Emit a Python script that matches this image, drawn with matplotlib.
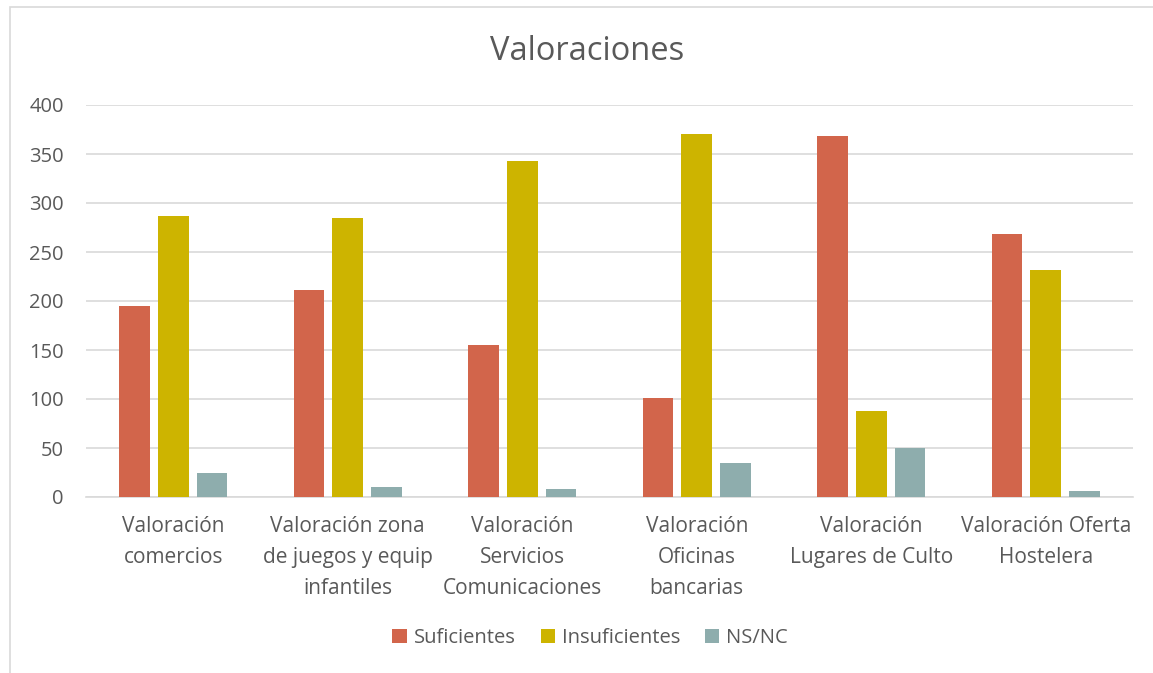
import numpy as np
import matplotlib.pyplot as plt
from matplotlib.patches import Rectangle

# Data
categorias = ['Valoración\ncomercios',
              'Valoración zona\nde juegos y equip\ninfantiles',
              'Valoración\nServicios\nComunicaciones',
              'Valoración\nOficinas\nbancarias',
              'Valoración\nLugares de Culto',
              'Valoración Oferta\nHostelera']
suficientes = [195, 211, 155, 101, 368, 268]
insuficientes = [287, 285, 343, 370, 88, 232]
ns_nc = [25, 10, 8, 35, 50, 6]

series = ['Suficientes', 'Insuficientes', 'NS/NC']
colores = ['#D2654B', '#CDB400', '#8EADAD']
texto = '#595959'

plt.rcParams['font.family'] = ['Open Sans', 'DejaVu Sans']

fig = plt.figure(figsize=(11.53, 6.73), dpi=100)
ax = fig.add_axes([86 / 1153, 1 - 497 / 673, (1133 - 86) / 1153, (497 - 105) / 673])

x = np.arange(len(categorias))
ancho = 0.175
paso = 0.222
for i, (vals, nombre, c) in enumerate(zip([suficientes, insuficientes, ns_nc], series, colores)):
    ax.bar(x + (i - 1) * paso, vals, width=ancho, color=c, label=nombre, zorder=3)

ax.set_xlim(-0.5, len(categorias) - 0.5)
ax.set_ylim(0, 400)
ax.set_yticks(range(0, 401, 50))
ax.set_xticks(x)
ax.set_xticklabels(categorias, fontsize=15, color=texto, linespacing=1.62)
ax.tick_params(axis='x', length=0, pad=14)
ax.tick_params(axis='y', length=0, pad=16, labelsize=14.5, labelcolor=texto)
ax.grid(axis='y', color='#D9D9D9', linewidth=1.2, zorder=0)
for s in ['top', 'right', 'left']:
    ax.spines[s].set_visible(False)
ax.spines['bottom'].set_color('#D9D9D9')
ax.spines['bottom'].set_linewidth(1.2)

fig.text(0.509, 1 - 51 / 673, 'Valoraciones', ha='center', va='center', fontsize=23.5, color=texto)

fig.legend(loc='center', bbox_to_anchor=(0.512, 1 - 638 / 673), ncol=3, frameon=False,
           fontsize=14.5, labelcolor=texto, handlelength=0.7, handleheight=0.7,
           handletextpad=0.35, columnspacing=1.25)

fig.patches.append(Rectangle((10 / 1153, -0.1), 1.2, 1.1 - 7 / 673, transform=fig.transFigure,
                             fill=False, edgecolor='#D9D9D9', linewidth=1.2))

plt.savefig('out.png', dpi=100)
